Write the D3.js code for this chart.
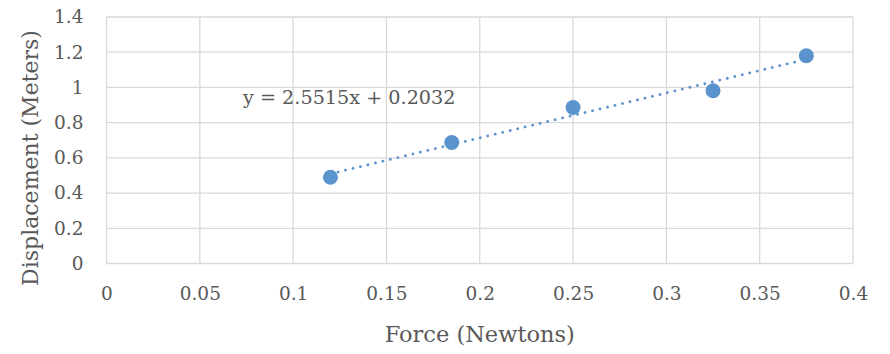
<!DOCTYPE html>
<html>
<head>
<meta charset="utf-8">
<script src="https://cdn.jsdelivr.net/npm/d3@7"></script>
<style>
  body { margin: 0; background: #fff; }
  text { font-family: "DejaVu Serif", serif; fill: #595959; }
</style>
</head>
<body>
<div id="container"></div>
<script>
/* CONSTANTS AND GLOBALS */
const width = 890,
  height = 354,
  margin = { top: 17, right: 37, bottom: 90.5, left: 106.5 };

/* DATA */
const force = [0.12, 0.185, 0.25, 0.325, 0.375];
const displacement = [0.49, 0.687, 0.886, 0.981, 1.18];
const xTicks = [0, 0.05, 0.1, 0.15, 0.2, 0.25, 0.3, 0.35, 0.4];
const yTicks = [0, 0.2, 0.4, 0.6, 0.8, 1, 1.2, 1.4];
const slope = 2.5515, intercept = 0.2032;
const equationLabel = "y = 2.5515x + 0.2032";

const data = force.map((f, i) => ({ x: f, y: displacement[i] }));

// SCALES
const xScale = d3.scaleLinear()
  .domain([0, 0.4])
  .range([margin.left, width - margin.right]);

const yScale = d3.scaleLinear()
  .domain([0, 1.4])
  .range([height - margin.bottom, margin.top]);

// CREATE SVG ELEMENT
const svg = d3.select("#container")
  .append("svg")
  .attr("width", width)
  .attr("height", height);

// GRIDLINES
svg.append("g")
  .selectAll("line")
  .data(xTicks)
  .join("line")
  .attr("x1", d => xScale(d)).attr("x2", d => xScale(d))
  .attr("y1", yScale(0)).attr("y2", yScale(1.4))
  .attr("stroke", "#d9d9d9")
  .attr("stroke-width", 1.3);

svg.append("g")
  .selectAll("line")
  .data(yTicks)
  .join("line")
  .attr("x1", xScale(0)).attr("x2", xScale(0.4))
  .attr("y1", d => yScale(d)).attr("y2", d => yScale(d))
  .attr("stroke", "#d9d9d9")
  .attr("stroke-width", 1.3);

// AXES (labels only)
const xAxis = svg.append("g")
  .attr("class", "x-axis")
  .attr("transform", `translate(0, ${yScale(0)})`)
  .call(d3.axisBottom(xScale).tickValues(xTicks).tickSize(0).tickPadding(23).tickFormat(d3.format("")));
xAxis.select(".domain").remove();
xAxis.selectAll("text").style("font-size", "18.5px").attr("fill", "#595959");

const yAxis = svg.append("g")
  .attr("class", "y-axis")
  .attr("transform", `translate(${xScale(0)}, 0)`)
  .call(d3.axisLeft(yScale).tickValues(yTicks).tickSize(0).tickPadding(23).tickFormat(d3.format("")));
yAxis.select(".domain").remove();
yAxis.selectAll("text").style("font-size", "18.5px").attr("fill", "#595959");

// TRENDLINE
const ext = d3.extent(force);
const lineGen = d3.line()
  .x(d => xScale(d))
  .y(d => yScale(slope * d + intercept));

svg.append("path")
  .datum(ext)
  .attr("d", lineGen)
  .attr("fill", "none")
  .attr("stroke", "#5b93cc")
  .attr("stroke-width", 2.8)
  .attr("stroke-linecap", "round")
  .attr("stroke-dasharray", "0.1 7.6");

// POINTS
svg.selectAll(".dot")
  .data(data)
  .join("circle")
  .attr("class", "dot")
  .attr("cx", d => xScale(d.x))
  .attr("cy", d => yScale(d.y))
  .attr("r", 7.5)
  .attr("fill", "#5b93cc");

// EQUATION
svg.append("text")
  .attr("x", 243)
  .attr("y", 104)
  .style("font-size", "19.2px")
  .text(equationLabel);

// AXIS TITLES
svg.append("text")
  .attr("x", xScale(0.2))
  .attr("y", 342)
  .attr("text-anchor", "middle")
  .style("font-size", "22.5px")
  .text("Force (Newtons)");

svg.append("text")
  .attr("transform", `translate(38, 158) rotate(-90)`)
  .attr("text-anchor", "middle")
  .style("font-size", "22px")
  .text("Displacement (Meters)");
</script>
</body>
</html>
